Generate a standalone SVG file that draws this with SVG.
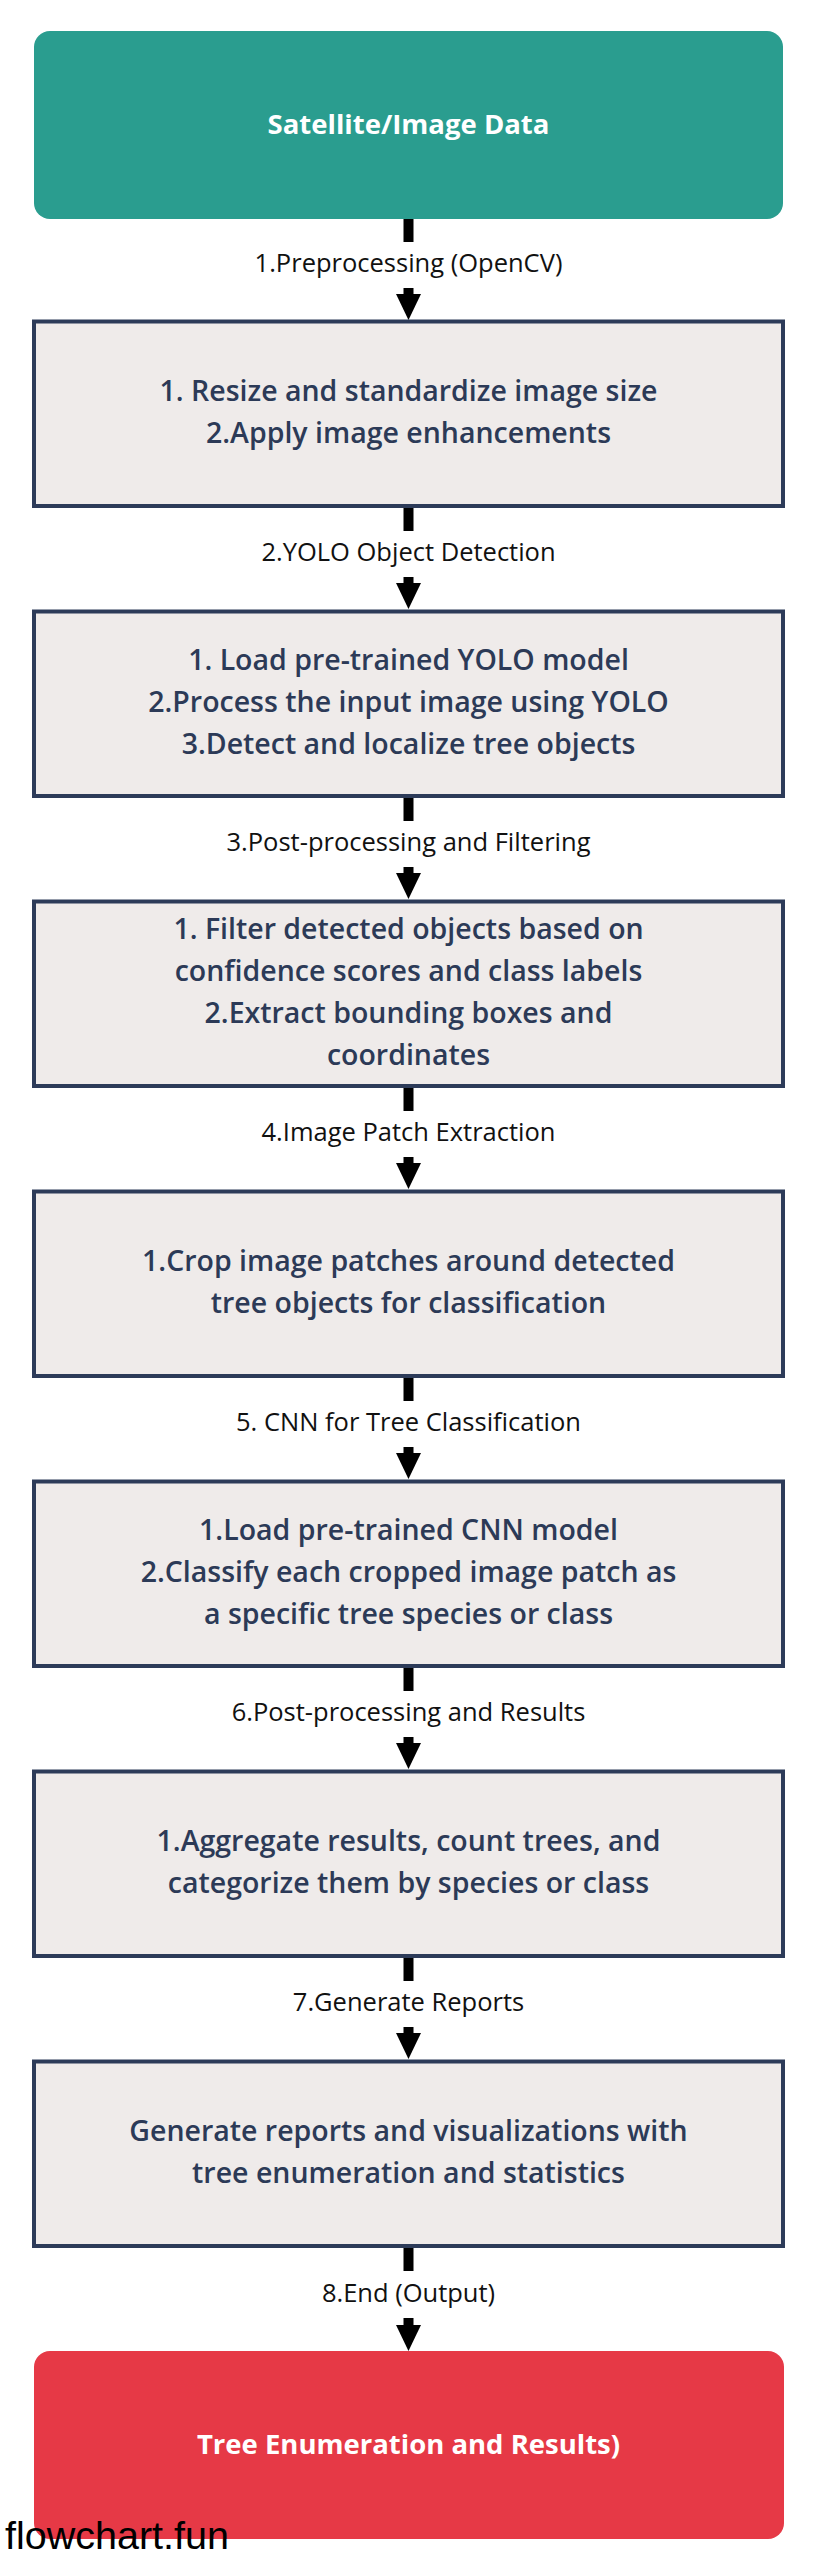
<svg xmlns="http://www.w3.org/2000/svg" width="817" height="2570" viewBox="0 0 817 2570">
<defs>
<style>
.proc{fill:#efebea;stroke:#2d3b59;stroke-width:4}
.bt{font-family:"Open Sans","Liberation Sans",sans-serif;font-size:28.5px;font-weight:600;fill:#2c3a57;text-anchor:middle}
.tt{font-family:"Open Sans","Liberation Sans",sans-serif;font-size:27.5px;font-weight:700;fill:#ffffff;text-anchor:middle}
.lbl{font-family:"Open Sans","Liberation Sans",sans-serif;font-size:25.5px;font-weight:400;fill:#111111;text-anchor:middle}
.conn{fill:none;stroke:#000000;stroke-width:10}
.wm{font-family:"Liberation Sans",Arial,sans-serif;font-size:39.5px;fill:#000000}
</style>
<marker id="ah" markerUnits="userSpaceOnUse" markerWidth="26" markerHeight="26" viewBox="0 0 25 24" refX="0" refY="12" orient="auto">
<path d="M0,0 L25,12 L0,24 z" fill="#000000"/>
</marker>
</defs>
<rect width="817" height="2570" fill="#ffffff"/>

<g id="connectors">
<path class="conn" marker-end="url(#ah)" d="M408.5 219 V242 M408.5 288 V294"/>
<text class="lbl" x="408.5" y="271.5">1.Preprocessing (OpenCV)</text>
<path class="conn" marker-end="url(#ah)" d="M408.5 508 V531 M408.5 577 V583"/>
<text class="lbl" x="408.5" y="560.5">2.YOLO Object Detection</text>
<path class="conn" marker-end="url(#ah)" d="M408.5 798 V821 M408.5 867 V873"/>
<text class="lbl" x="408.5" y="850.5">3.Post-processing and Filtering</text>
<path class="conn" marker-end="url(#ah)" d="M408.5 1088 V1111 M408.5 1157 V1163"/>
<text class="lbl" x="408.5" y="1140.5">4.Image Patch Extraction</text>
<path class="conn" marker-end="url(#ah)" d="M408.5 1378 V1401 M408.5 1447 V1453"/>
<text class="lbl" x="408.5" y="1430.5">5. CNN for Tree Classification</text>
<path class="conn" marker-end="url(#ah)" d="M408.5 1668 V1691 M408.5 1737 V1743"/>
<text class="lbl" x="408.5" y="1720.5">6.Post-processing and Results</text>
<path class="conn" marker-end="url(#ah)" d="M408.5 1958 V1981 M408.5 2027 V2033"/>
<text class="lbl" x="408.5" y="2010.5">7.Generate Reports</text>
<path class="conn" marker-end="url(#ah)" d="M408.5 2248 V2271 M408.5 2318 V2325"/>
<text class="lbl" x="408.5" y="2301.5">8.End (Output)</text>
</g>

<g id="n0">
<rect x="34" y="31" width="749" height="188" rx="16" fill="#2a9d8f"/>
<text class="tt" x="408.5" y="134">Satellite/Image Data</text>
</g>

<g id="n1">
<rect class="proc" x="34" y="321.5" width="749" height="184.5"/>
<text class="bt" x="408.5" y="401">1. Resize and standardize image size</text>
<text class="bt" x="408.5" y="443">2.Apply image enhancements</text>
</g>

<g id="n2">
<rect class="proc" x="34" y="611.5" width="749" height="184.5"/>
<text class="bt" x="408.5" y="670">1. Load pre-trained YOLO model</text>
<text class="bt" x="408.5" y="712">2.Process the input image using YOLO</text>
<text class="bt" x="408.5" y="754">3.Detect and localize tree objects</text>
</g>

<g id="n3">
<rect class="proc" x="34" y="901.5" width="749" height="184.5"/>
<text class="bt" x="408.5" y="939">1. Filter detected objects based on</text>
<text class="bt" x="408.5" y="981">confidence scores and class labels</text>
<text class="bt" x="408.5" y="1023">2.Extract bounding boxes and</text>
<text class="bt" x="408.5" y="1065">coordinates</text>
</g>

<g id="n4">
<rect class="proc" x="34" y="1191.5" width="749" height="184.5"/>
<text class="bt" x="408.5" y="1271">1.Crop image patches around detected</text>
<text class="bt" x="408.5" y="1313">tree objects for classification</text>
</g>

<g id="n5">
<rect class="proc" x="34" y="1481.5" width="749" height="184.5"/>
<text class="bt" x="408.5" y="1540">1.Load pre-trained CNN model</text>
<text class="bt" x="408.5" y="1582">2.Classify each cropped image patch as</text>
<text class="bt" x="408.5" y="1624">a specific tree species or class</text>
</g>

<g id="n6">
<rect class="proc" x="34" y="1771.5" width="749" height="184.5"/>
<text class="bt" x="408.5" y="1851">1.Aggregate results, count trees, and</text>
<text class="bt" x="408.5" y="1893">categorize them by species or class</text>
</g>

<g id="n7">
<rect class="proc" x="34" y="2061.5" width="749" height="184.5"/>
<text class="bt" x="408.5" y="2141">Generate reports and visualizations with</text>
<text class="bt" x="408.5" y="2183">tree enumeration and statistics</text>
</g>

<g id="n8">
<rect x="34" y="2351" width="750" height="188" rx="16" fill="#e63946"/>
<text class="tt" x="408.5" y="2454">Tree Enumeration and Results)</text>
</g>

<text class="wm" x="5" y="2549">flowchart.fun</text>
</svg>
